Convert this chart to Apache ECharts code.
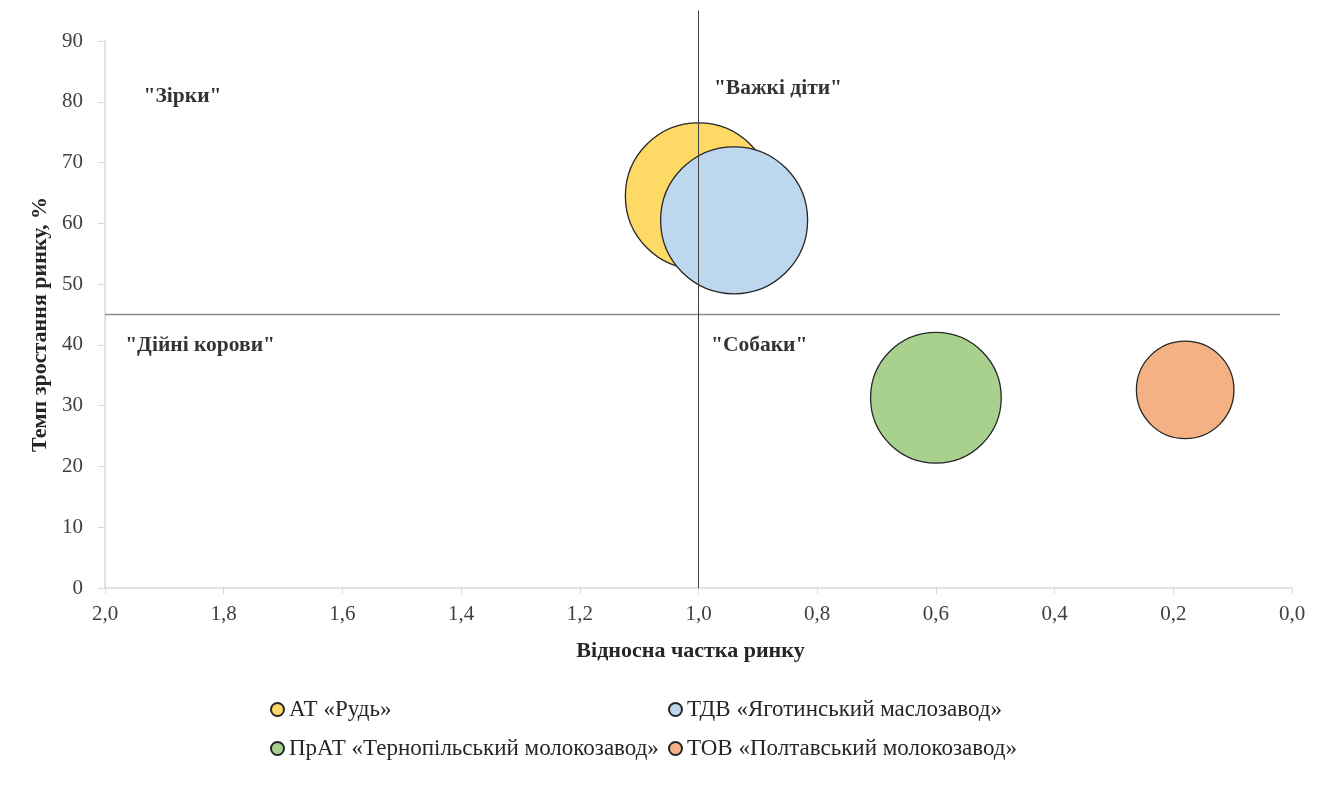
<!DOCTYPE html>
<html>
<head>
<meta charset="utf-8">
<script src="https://cdn.jsdelivr.net/npm/echarts@6/dist/echarts.min.js"></script>
<style>
html,body{margin:0;padding:0;background:#fff;}
#chart{width:1323px;height:785px;}
</style>
</head>
<body>
<div id="chart"></div>
<script>
// ---- data ----
const companies = [
  'АТ «Рудь»',
  'ТДВ «Яготинський маслозавод»',
  'ПрАТ «Тернопільський молокозавод»',
  'ТОВ «Полтавський молокозавод»'
];
const relativeShare = [1.00, 0.94, 0.60, 0.18];   // x
const marketGrowth = [64.5, 60.5, 31.3, 32.6];    // y, %
const bubbleValue = [0.99, 1.00, 0.79, 0.44];     // bubble size (relative)
const colors = ['#FFD966', '#BDD7EE', '#A9D18E', '#F4B183'];
const xTicks = [0, 0.2, 0.4, 0.6, 0.8, 1.0, 1.2, 1.4, 1.6, 1.8, 2.0];
const yTicks = [0, 10, 20, 30, 40, 50, 60, 70, 80, 90];
const quadrantLabels = [
  {text: '"Зірки"', x: 1.935, y: 80.8},
  {text: '"Важкі діти"', x: 0.974, y: 82.2},
  {text: '"Дійні корови"', x: 1.966, y: 39.9},
  {text: '"Собаки"', x: 0.979, y: 39.9}
];
const hLine = [[2.0, 45], [0.02, 45]];
const vLine = [[1.0, 0], [1.0, 95]];

const FONT = '"Liberation Serif", "DejaVu Serif", serif';
const maxDiam = 147;

const chart = echarts.init(document.getElementById('chart'), null, {renderer: 'canvas'});

const bubbleSeries = companies.map((name, i) => ({
  name: name,
  type: 'scatter',
  data: [[relativeShare[i], marketGrowth[i], bubbleValue[i]]],
  symbol: 'circle',
  symbolSize: d => maxDiam * Math.sqrt(d[2] / Math.max(...bubbleValue)),
  itemStyle: {color: colors[i], borderColor: '#262626', borderWidth: 1.3, opacity: 1},
  z: 2 + i * 0.01,
  emphasis: {disabled: true}
}));

const legendBase = {
  orient: 'vertical', top: 693,
  itemGap: 16, itemWidth: 13, itemHeight: 13, icon: 'circle',
  textStyle: {fontFamily: FONT, fontSize: 23, color: '#262626'},
  selectedMode: false
};

const option = {
  animation: false,
  backgroundColor: '#fff',
  textStyle: {fontFamily: FONT},
  grid: {left: 105, right: 31, top: 41, bottom: 197, containLabel: false},
  xAxis: {
    type: 'value', inverse: true, min: 0, max: 2, interval: 0.2,
    name: 'Відносна частка ринку', nameLocation: 'middle', nameGap: 52,
    nameTextStyle: {fontFamily: FONT, fontWeight: 'bold', fontSize: 22, color: '#262626', padding: [0, 16, 0, 0]},
    axisLine: {show: true, onZero: false, lineStyle: {color: '#d9d9d9', width: 1.5}},
    axisTick: {show: true, length: 6, lineStyle: {color: '#d9d9d9'}},
    axisLabel: {fontFamily: FONT, fontSize: 21, color: '#404040', margin: 16,
      formatter: v => v.toFixed(1).replace('.', ',')},
    splitLine: {show: false}
  },
  yAxis: {
    type: 'value', min: 0, max: 90, interval: 10, position: 'left',
    name: 'Темп зростання ринку, %', nameLocation: 'middle', nameGap: 52, nameRotate: 90,
    nameTextStyle: {fontFamily: FONT, fontWeight: 'bold', fontSize: 22, color: '#262626', padding: [0, 20, 0, 0]},
    axisLine: {show: true, onZero: false, lineStyle: {color: '#d9d9d9', width: 1.5}},
    axisTick: {show: true, length: 7, lineStyle: {color: '#d9d9d9'}},
    axisLabel: {fontFamily: FONT, fontSize: 21, color: '#404040', margin: 22},
    splitLine: {show: false}
  },
  legend: [
    Object.assign({}, legendBase, {data: [companies[0], companies[2]], left: 265}),
    Object.assign({}, legendBase, {data: [companies[1], companies[3]], left: 663})
  ],
  series: [
    ...bubbleSeries,
    {
      type: 'line', data: hLine, symbol: 'none', silent: true, clip: false,
      lineStyle: {color: '#8c8c8c', width: 1.6}, z: 5
    },
    {
      type: 'line', data: vLine, symbol: 'none', silent: true, clip: false,
      lineStyle: {color: '#404040', width: 1}, z: 5
    },
    {
      type: 'scatter', silent: true, symbolSize: 0, z: 6,
      data: quadrantLabels.map(q => ({value: [q.x, q.y], name: q.text})),
      label: {
        show: true, position: 'right', distance: 0,
        formatter: p => p.name,
        fontFamily: FONT, fontWeight: 'bold', fontSize: 21.5, color: '#000'
      }
    }
  ]
};
chart.setOption(option);
</script>
</body>
</html>
